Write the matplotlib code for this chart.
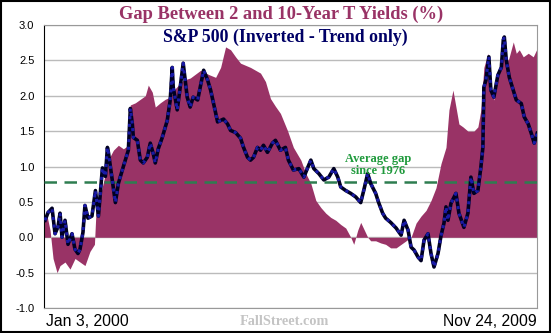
import matplotlib.pyplot as plt
import numpy as np

# spread between 10-year and 2-year treasury yields (%)
gap_years = [2000.00, 2000.06, 2000.12, 2000.18, 2000.26, 2000.32, 2000.42, 2000.52, 2000.62, 2000.72,
             2000.82, 2000.92, 2001.01, 2001.05, 2001.13, 2001.23, 2001.33, 2001.39, 2001.49, 2001.59,
             2001.69, 2001.73, 2001.83, 2001.93, 2002.03, 2002.09, 2002.17, 2002.23, 2002.33, 2002.43,
             2002.53, 2002.63, 2002.79, 2002.93, 2003.14, 2003.30, 2003.44, 2003.54, 2003.64, 2003.74,
             2003.84, 2003.94, 2004.14, 2004.34, 2004.44, 2004.54, 2004.64, 2004.74, 2004.88, 2005.00,
             2005.15, 2005.25, 2005.35, 2005.45, 2005.55, 2005.65, 2005.75, 2005.85, 2005.95, 2006.05,
             2006.15, 2006.21, 2006.29, 2006.35, 2006.41, 2006.49, 2006.55, 2006.65, 2006.75, 2006.85,
             2006.95, 2007.06, 2007.16, 2007.26, 2007.36, 2007.46, 2007.56, 2007.66, 2007.76, 2007.86,
             2007.96, 2008.06, 2008.12, 2008.20, 2008.26, 2008.32, 2008.40, 2008.50, 2008.62, 2008.70,
             2008.76, 2008.82, 2008.90, 2008.96, 2009.02, 2009.10, 2009.17, 2009.23, 2009.31, 2009.41,
             2009.47, 2009.53, 2009.61, 2009.71, 2009.81, 2009.89]
gap = [0.25, 0.30, 0.10, -0.30, -0.50, -0.40, -0.35, -0.45, -0.30, -0.35,
       -0.40, -0.20, -0.10, 0.50, 0.60, 0.90, 1.15, 1.23, 1.30, 1.25,
       1.30, 1.87, 1.90, 1.95, 2.00, 2.15, 2.05, 1.84, 1.90, 1.95,
       1.98, 2.10, 2.22, 2.25, 2.36, 2.30, 2.26, 2.40, 2.69, 2.65,
       2.55, 2.46, 2.40, 2.32, 2.20, 1.96, 1.85, 1.75, 1.51, 1.27,
       1.09, 0.90, 0.76, 0.52, 0.42, 0.34, 0.28, 0.24, 0.18, 0.13,
       0.00, -0.10, 0.10, 0.21, 0.12, 0.00, -0.05, -0.05, -0.08, -0.10,
       -0.15, -0.15, -0.10, -0.05, 0.00, 0.20, 0.30, 0.38, 0.52, 0.70,
       1.04, 1.27, 1.80, 2.08, 1.84, 1.60, 1.56, 1.50, 1.50, 1.56,
       1.80, 2.40, 2.60, 2.12, 1.94, 2.26, 2.46, 2.60, 2.50, 2.76,
       2.60, 2.65, 2.55, 2.60, 2.55, 2.67]

# S&P 500, inverted and rescaled (trend only)
spx_years = [2000.02, 2000.08, 2000.16, 2000.22, 2000.28, 2000.32, 2000.36, 2000.42, 2000.48, 2000.56,
             2000.62, 2000.68, 2000.72, 2000.78, 2000.82, 2000.88, 2000.96, 2001.03, 2001.09, 2001.17,
             2001.23, 2001.27, 2001.29, 2001.33, 2001.39, 2001.43, 2001.49, 2001.59, 2001.69, 2001.73,
             2001.77, 2001.79, 2001.87, 2001.93, 2001.99, 2002.07, 2002.13, 2002.19, 2002.23, 2002.29,
             2002.37, 2002.47, 2002.53, 2002.57, 2002.59, 2002.67, 2002.73, 2002.79, 2002.87, 2002.93,
             2002.99, 2003.08, 2003.14, 2003.20, 2003.28, 2003.34, 2003.40, 2003.48, 2003.54, 2003.60,
             2003.68, 2003.74, 2003.84, 2003.94, 2004.00, 2004.08, 2004.14, 2004.20, 2004.28, 2004.34,
             2004.40, 2004.48, 2004.58, 2004.64, 2004.74, 2004.84, 2004.90, 2005.00, 2005.11, 2005.21,
             2005.29, 2005.35, 2005.41, 2005.51, 2005.61, 2005.71, 2005.81, 2005.89, 2005.95, 2006.05,
             2006.15, 2006.25, 2006.35, 2006.41, 2006.49, 2006.55, 2006.65, 2006.71, 2006.79, 2006.85,
             2006.95, 2007.06, 2007.16, 2007.22, 2007.30, 2007.36, 2007.42, 2007.50, 2007.56, 2007.62,
             2007.70, 2007.76, 2007.82, 2007.90, 2007.96, 2008.02, 2008.06, 2008.10, 2008.16, 2008.26,
             2008.32, 2008.42, 2008.50, 2008.56, 2008.62, 2008.70, 2008.76, 2008.80, 2008.82, 2008.86,
             2008.92, 2008.96, 2009.02, 2009.10, 2009.17, 2009.21, 2009.23, 2009.27, 2009.33, 2009.41,
             2009.47, 2009.57, 2009.63, 2009.71, 2009.77, 2009.83, 2009.89]
spx = [0.24, 0.35, 0.41, 0.05, 0.15, 0.34, 0.00, 0.24, -0.10, 0.05,
       -0.17, -0.23, -0.17, 0.07, 0.45, 0.27, 0.30, 0.66, 0.30, 0.98,
       0.86, 1.27, 1.20, 1.00, 0.71, 0.49, 0.76, 1.00, 1.23, 1.82,
       1.60, 1.41, 1.37, 1.09, 1.05, 1.13, 1.33, 1.18, 1.05, 1.25,
       1.41, 1.65, 1.94, 2.40, 2.12, 1.80, 2.12, 2.46, 1.98, 1.84,
       1.98, 1.94, 2.15, 2.36, 2.22, 2.08, 1.89, 1.63, 1.65, 1.67,
       1.60, 1.51, 1.48, 1.40, 1.27, 1.13, 1.09, 1.13, 1.27, 1.23,
       1.30, 1.20, 1.33, 1.37, 1.23, 1.27, 1.09, 0.95, 0.97, 0.85,
       0.99, 1.09, 0.97, 0.90, 0.81, 0.85, 0.97, 0.85, 0.71, 0.66,
       0.62, 0.57, 0.49, 0.66, 0.90, 0.76, 0.62, 0.49, 0.34, 0.27,
       0.21, 0.13, 0.03, 0.24, 0.10, -0.14, -0.18, -0.28, -0.33, -0.04,
       0.05, -0.23, -0.42, -0.23, 0.02, 0.20, 0.43, 0.24, 0.48, 0.62,
       0.34, 0.14, 0.34, 0.85, 0.62, 0.66, 0.99, 1.27, 2.12, 2.22,
       2.55, 2.08, 1.98, 2.29, 2.40, 2.79, 2.83, 2.50, 2.26, 2.08,
       1.94, 1.89, 1.70, 1.60, 1.47, 1.33, 1.47]

avg_gap = 0.78
start_label = "Jan 3, 2000"
end_label = "Nov 24, 2009"

fig = plt.figure(figsize=(5.51, 3.33), dpi=100)
ax = fig.add_axes([0.080, 0.075, 0.895, 0.850])

ax.fill_between(gap_years, gap, 0, color='#993366', linewidth=0, zorder=2)
ax.axhline(avg_gap, color='#2e7d50', linestyle=(0, (5, 3)), linewidth=1.8, zorder=3)
ax.plot(spx_years, spx, color='#000022', linewidth=2.6, zorder=4)
ax.plot(spx_years, spx, color='#1a1aa6', linewidth=2.2, linestyle=(0, (1, 1.5)), zorder=5)

ax.set_xlim(gap_years[0], gap_years[-1])
ax.set_ylim(-1.0, 3.0)
ax.set_yticks(np.arange(-1.0, 3.01, 0.5))
ax.set_yticklabels(['%.1f' % v for v in np.arange(-1.0, 3.01, 0.5)], fontsize=8,
                   family='Liberation Sans')
ax.set_xticks([])
ax.tick_params(axis='y', length=0, pad=7)
ax.yaxis.grid(True, color='#bbbbbb', linewidth=1, zorder=0)
ax.set_axisbelow(True)
for s in ['top', 'right', 'bottom']:
    ax.spines[s].set_color('#999999')
ax.spines['left'].set_color('black')

fig.text(0.51, 0.958, "Gap Between 2 and 10-Year T Yields (%)", ha='center', va='center',
         fontsize=13.3, fontweight='bold', family='Liberation Serif', color='#993366')
ax.text(0.49, 0.955, "S&P 500 (Inverted - Trend only)", transform=ax.transAxes, ha='center',
        va='center', fontsize=12.8, fontweight='bold', family='Liberation Serif', color='#000066')
# annotation for the average line, two lines placed separately
ax.text(2006.70, 1.10, "Average gap", ha='center', va='center', fontsize=9,
        fontweight='bold', family='Liberation Serif', color='#1f9a3c', zorder=6)
ax.text(2006.70, 0.93, "since 1976", ha='center', va='center', fontsize=9,
        fontweight='bold', family='Liberation Serif', color='#1f9a3c', zorder=6)

fig.text(0.083, 0.035, start_label, ha='left', va='center', fontsize=11.3, family='Liberation Sans')
fig.text(0.974, 0.035, end_label, ha='right', va='center', fontsize=11.3, family='Liberation Sans')
fig.text(0.517, 0.035, "FallStreet.com", ha='center', va='center', fontsize=10.3,
         fontweight='bold', family='Liberation Serif', color='#c4c4c4')

fig.patches.append(plt.Rectangle((0.002, 0.003), 0.996, 0.994, transform=fig.transFigure,
                                 fill=False, edgecolor='black', linewidth=1.5))

plt.savefig('out.png', dpi=100)
